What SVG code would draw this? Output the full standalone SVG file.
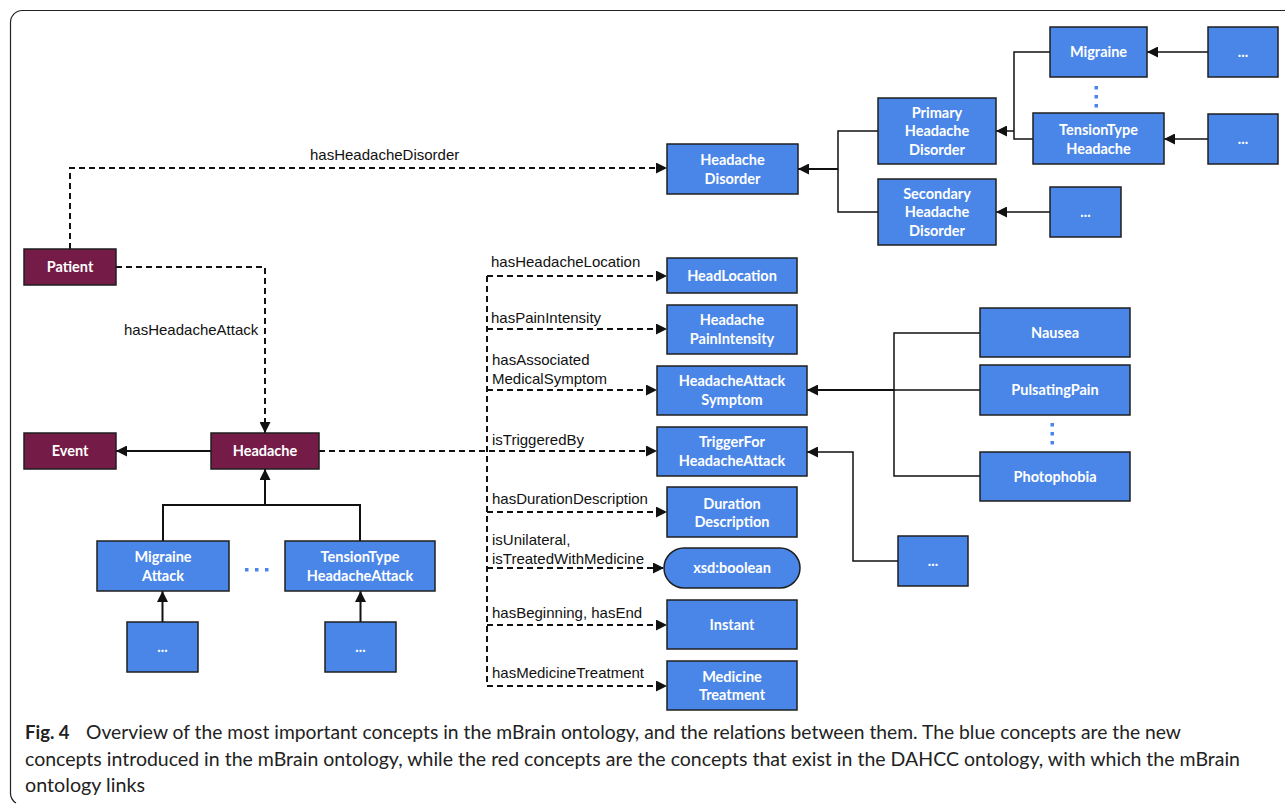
<svg xmlns="http://www.w3.org/2000/svg" width="1285" height="805" viewBox="0 0 1285 805">
<defs>
<style>
.b{fill:#4a86e8;stroke:#1f1f1f;stroke-width:1.5}
.r{fill:#741b47;stroke:#1f1f1f;stroke-width:1.5}
.t{font-family:Lato,"Open Sans",sans-serif;font-weight:bold;font-size:14.5px;fill:#fff;text-anchor:middle}
.l{font-family:"Liberation Sans",Arial,sans-serif;font-size:15px;fill:#111}
.d{fill:none;stroke:#111;stroke-width:2;stroke-dasharray:6,4}
.s{fill:none;stroke:#111;stroke-width:1.5}
.s2{fill:none;stroke:#111;stroke-width:2}
.dot{fill:#4a86e8}
.cap{font-family:Lato,"Open Sans",sans-serif;font-size:18.5px;fill:#222}
</style>
<marker id="a" viewBox="0 0 10 10" refX="10" refY="5" markerWidth="11" markerHeight="11" markerUnits="userSpaceOnUse" orient="auto">
<path d="M0,0 L10,5 L0,10 z" fill="#111"/>
</marker>
</defs>
<rect width="1285" height="805" fill="#fff"/>
<path d="M1285,10.5 H22 A12,12 0 0 0 10.5,22.5 V792 A12,12 0 0 0 16,803" fill="none" stroke="#222" stroke-width="1.2"/>

<g id="connectors">
<path class="d" d="M70,249 V168 H667" marker-end="url(#a)"/>
<path class="d" d="M116,267 H265 V433" marker-end="url(#a)"/>
<path class="d" d="M319,451 H657" marker-end="url(#a)"/>
<path class="d" d="M487,276 V686"/>
<path class="d" d="M487,276 H667" marker-end="url(#a)"/>
<path class="d" d="M487,329 H667" marker-end="url(#a)"/>
<path class="d" d="M487,390 H657" marker-end="url(#a)"/>
<path class="d" d="M487,512 H667" marker-end="url(#a)"/>
<path class="d" d="M487,568 H664" marker-end="url(#a)"/>
<path class="d" d="M487,625 H667" marker-end="url(#a)"/>
<path class="d" d="M487,686 H667" marker-end="url(#a)"/>
<path class="s2" d="M211,451 H116" marker-end="url(#a)"/>
<path class="s2" d="M265,505 V469" marker-end="url(#a)"/>
<path class="s2" d="M163,541 V505 H360 V541"/>
<path class="s2" d="M162.5,622 V591" marker-end="url(#a)"/>
<path class="s2" d="M360.5,622 V591" marker-end="url(#a)"/>
<path class="s2" d="M838,169 H798" marker-end="url(#a)"/>
<path class="s" d="M878,131 H838 V212 H878"/>
<path class="s" d="M1014,131 H996" marker-end="url(#a)"/>
<path class="s" d="M1050,52 H1014 V139 H1033"/>
<path class="s" d="M1208,52 H1147" marker-end="url(#a)"/>
<path class="s" d="M1208,139 H1164" marker-end="url(#a)"/>
<path class="s" d="M1050,212 H996" marker-end="url(#a)"/>
<path class="s2" d="M894,390 H807" marker-end="url(#a)"/>
<path class="s" d="M980,333 H894 V476 H980"/>
<path class="s" d="M980,390 H894"/>
<path class="s" d="M898,561 H853 V452 H807" marker-end="url(#a)"/>
<text class="l" x="310" y="160">hasHeadacheDisorder</text>
<text class="l" x="124" y="335">hasHeadacheAttack</text>
<text class="l" x="491" y="267">hasHeadacheLocation</text>
<text class="l" x="491" y="323">hasPainIntensity</text>
<text class="l" x="492" y="365">hasAssociated</text>
<text class="l" x="492" y="384">MedicalSymptom</text>
<text class="l" x="492" y="445">isTriggeredBy</text>
<text class="l" x="492" y="504">hasDurationDescription</text>
<text class="l" x="492" y="545">isUnilateral,</text>
<text class="l" x="492" y="564">isTreatedWithMedicine</text>
<text class="l" x="492" y="618">hasBeginning, hasEnd</text>
<text class="l" x="492" y="678">hasMedicineTreatment</text>
</g>

<g id="dots">
<rect class="dot" x="1094.5" y="86" width="3.5" height="3.5"/>
<rect class="dot" x="1094.5" y="95" width="3.5" height="3.5"/>
<rect class="dot" x="1094.5" y="104" width="3.5" height="3.5"/>
<rect class="dot" x="1050.5" y="423" width="3.5" height="3.5"/>
<rect class="dot" x="1050.5" y="432" width="3.5" height="3.5"/>
<rect class="dot" x="1050.5" y="441" width="3.5" height="3.5"/>
<rect class="dot" x="245" y="568" width="3.5" height="3.5"/>
<rect class="dot" x="255" y="568" width="3.5" height="3.5"/>
<rect class="dot" x="265" y="568" width="3.5" height="3.5"/>
</g>

<g id="patient"><rect class="r" x="24" y="249" width="92" height="36"/><text class="t" x="70" y="272">Patient</text></g>
<g id="event"><rect class="r" x="24" y="433" width="92" height="36"/><text class="t" x="70" y="456">Event</text></g>
<g id="headache"><rect class="r" x="211" y="433" width="108" height="36"/><text class="t" x="265" y="456">Headache</text></g>

<g id="headacheDisorder"><rect class="b" x="667" y="144" width="131" height="50"/><text class="t" x="732.5" y="165">Headache</text><text class="t" x="732.5" y="184">Disorder</text></g>
<g id="primary"><rect class="b" x="878" y="98" width="118" height="66"/><text class="t" x="937" y="118">Primary</text><text class="t" x="937" y="136">Headache</text><text class="t" x="937" y="155">Disorder</text></g>
<g id="secondary"><rect class="b" x="878" y="179" width="118" height="66"/><text class="t" x="937" y="199">Secondary</text><text class="t" x="937" y="217">Headache</text><text class="t" x="937" y="236">Disorder</text></g>
<g id="migraine"><rect class="b" x="1050" y="27" width="97" height="50"/><text class="t" x="1098.5" y="57">Migraine</text></g>
<g id="tensionType"><rect class="b" x="1033" y="113" width="131" height="51"/><text class="t" x="1098.5" y="135">TensionType</text><text class="t" x="1098.5" y="154">Headache</text></g>
<g id="migraineSub"><rect class="b" x="1208" y="27" width="70" height="50"/><text class="t" x="1243" y="57">...</text></g>
<g id="tensionSub"><rect class="b" x="1208" y="114" width="70" height="50"/><text class="t" x="1243" y="144">...</text></g>
<g id="secondarySub"><rect class="b" x="1050" y="187" width="71" height="50"/><text class="t" x="1085.5" y="217">...</text></g>

<g id="headLocation"><rect class="b" x="667" y="258" width="130" height="35"/><text class="t" x="732" y="280.5">HeadLocation</text></g>
<g id="painIntensity"><rect class="b" x="667" y="305" width="130" height="49"/><text class="t" x="732" y="325">Headache</text><text class="t" x="732" y="344">PainIntensity</text></g>
<g id="attackSymptom"><rect class="b" x="657" y="366" width="150" height="49"/><text class="t" x="732" y="386">HeadacheAttack</text><text class="t" x="732" y="405">Symptom</text></g>
<g id="trigger"><rect class="b" x="657" y="427" width="150" height="49"/><text class="t" x="732" y="447">TriggerFor</text><text class="t" x="732" y="466">HeadacheAttack</text></g>
<g id="duration"><rect class="b" x="667" y="487" width="130" height="50"/><text class="t" x="732" y="509">Duration</text><text class="t" x="732" y="527">Description</text></g>
<g id="boolean"><rect class="b" x="664" y="548" width="136" height="40" rx="20" ry="20"/><text class="t" x="732" y="573">xsd:boolean</text></g>
<g id="instant"><rect class="b" x="667" y="600" width="130" height="49"/><text class="t" x="732" y="630">Instant</text></g>
<g id="medicine"><rect class="b" x="667" y="661" width="130" height="49"/><text class="t" x="732" y="682">Medicine</text><text class="t" x="732" y="700">Treatment</text></g>

<g id="nausea"><rect class="b" x="980" y="308" width="150" height="49"/><text class="t" x="1055" y="338">Nausea</text></g>
<g id="pulsating"><rect class="b" x="980" y="365" width="150" height="50"/><text class="t" x="1055" y="395">PulsatingPain</text></g>
<g id="photophobia"><rect class="b" x="980" y="452" width="150" height="49"/><text class="t" x="1055" y="482">Photophobia</text></g>
<g id="triggerSub"><rect class="b" x="898" y="536" width="70" height="50"/><text class="t" x="933" y="566">...</text></g>

<g id="migraineAttack"><rect class="b" x="97" y="541" width="132" height="50"/><text class="t" x="163" y="562">Migraine</text><text class="t" x="163" y="581">Attack</text></g>
<g id="tensionAttack"><rect class="b" x="285" y="541" width="150" height="50"/><text class="t" x="360" y="562">TensionType</text><text class="t" x="360" y="581">HeadacheAttack</text></g>
<g id="migraineAttackSub"><rect class="b" x="127" y="622" width="71" height="50"/><text class="t" x="162.5" y="652">...</text></g>
<g id="tensionAttackSub"><rect class="b" x="325" y="622" width="71" height="50"/><text class="t" x="360.5" y="652">...</text></g>

<g id="caption">
<text class="cap" x="25" y="739" font-weight="bold">Fig. 4</text>
<text class="cap" x="86" y="739" textLength="1095" lengthAdjust="spacingAndGlyphs">Overview of the most important concepts in the mBrain ontology, and the relations between them. The blue concepts are the new</text>
<text class="cap" x="25" y="766" textLength="1215" lengthAdjust="spacingAndGlyphs">concepts introduced in the mBrain ontology, while the red concepts are the concepts that exist in the DAHCC ontology, with which the mBrain</text>
<text class="cap" x="25" y="792" textLength="120" lengthAdjust="spacingAndGlyphs">ontology links</text>
</g>
</svg>
